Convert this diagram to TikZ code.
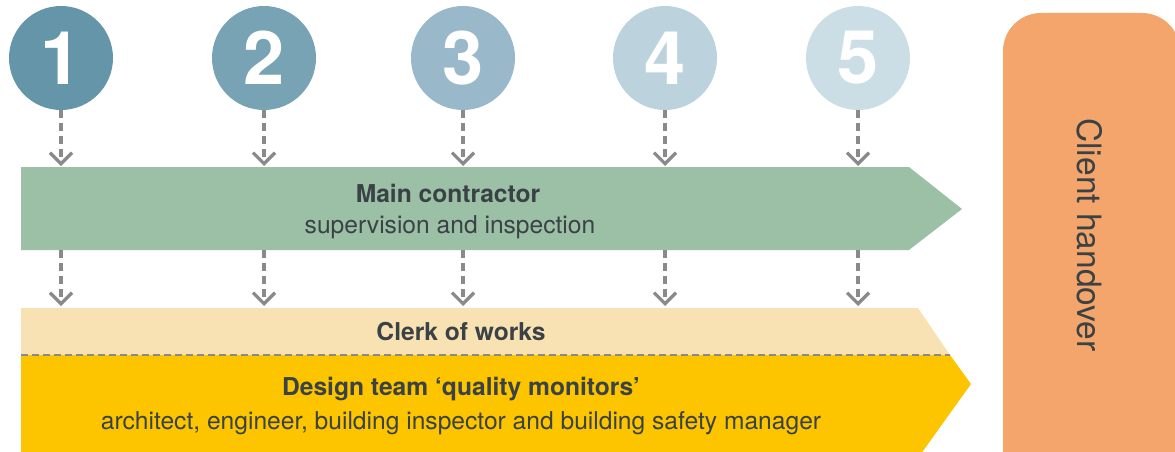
\documentclass[tikz,border=0pt]{standalone}
\usepackage{fontspec}
\setmainfont{TeX Gyre Heros}
\usepackage{xcolor}
\usepackage{tikz}
\usetikzlibrary{arrows.meta, positioning}

\definecolor{stageA}{HTML}{6595A9}
\definecolor{stageB}{HTML}{78A3B5}
\definecolor{stageC}{HTML}{99B9CA}
\definecolor{stageD}{HTML}{BCD2DC}
\definecolor{stageE}{HTML}{CCDEE5}
\definecolor{contractor}{HTML}{9BC0A6}
\definecolor{clerk}{HTML}{F8E2B4}
\definecolor{design}{HTML}{FCC500}
\definecolor{handover}{HTML}{F4A56B}
\definecolor{arrowgray}{HTML}{8A8A8A}
\definecolor{ink}{HTML}{3A4245}

\tikzset{
  stage/.style={circle, minimum size=104pt, inner sep=0pt, text=white,
    font=\fontsize{74}{74}\selectfont\bfseries},
  flow/.style={draw=arrowgray, line width=3.2pt, dash pattern=on 8pt off 5pt,
    -{Straight Barb[length=11pt, width=22pt]}},
  bandtext/.style={text=ink, font=\fontsize{24.6}{28}\selectfont, inner sep=0pt}
}

\begin{document}
\begin{tikzpicture}[x=1pt, y=-1pt]
    \clip (0,0) rectangle (1175,452);
    % Bands
    \fill[contractor] (21,167) -- (909,167) -- (962,209) -- (909,250) -- (21,250) -- cycle;
    \fill[clerk] (21,308) -- (918,308) -- (950,355) -- (21,355) -- cycle;
    \fill[design] (21,355) -- (950,355) -- (971,384) -- (918,458) -- (21,458) -- cycle;
    \draw[arrowgray, line width=2.4pt, dash pattern=on 7pt off 4pt] (21,355) -- (950,355);
    % Handover block
    \fill[handover, rounded corners=38pt] (1003,13) rectangle (1180,500);
    \node[bandtext, rotate=-90, font=\fontsize{33.5}{38}\selectfont] (handover) at (1090,235) {Client handover};
    % Stages
    \node[stage, fill=stageA] (s1) at (61,58) {1};
    \node[stage, fill=stageB] (s2) at (264,58) {2};
    \node[stage, fill=stageC] (s3) at (463,58) {3};
    \node[stage, fill=stageD] (s4) at (665,58) {4};
    \node[stage, fill=stageE] (s5) at (858,58) {5};
    % Band edges
    \coordinate (mainTop) at (0,166);
    \coordinate (mainBot) at (0,250);
    \coordinate (clerkTop) at (0,306);
    % Band labels
    \node[bandtext, font=\fontsize{24.6}{28}\selectfont\bfseries] (main) at (448,193) {Main contractor};
    \node[bandtext] (mainsub) at (450,227) {supervision and inspection};
    \node[bandtext, font=\fontsize{24.6}{28}\selectfont\bfseries] (clerkw) at (461,332) {Clerk of works};
    \node[bandtext, font=\fontsize{24.6}{28}\selectfont\bfseries] (designt) at (461,389) {Design team `quality monitors'};
    \node[bandtext] (designsub) at (461,423) {architect, engineer, building inspector and building safety manager};
    % Arrows into main contractor
    \draw[flow] (s1.south) -- (s1 |- mainTop);
    \draw[flow] (s2.south) -- (s2 |- mainTop);
    \draw[flow] (s3.south) -- (s3 |- mainTop);
    \draw[flow] (s4.south) -- (s4 |- mainTop);
    \draw[flow] (s5.south) -- (s5 |- mainTop);
    % Arrows into clerk of works
    \draw[flow] (s1 |- mainBot) -- (s1 |- clerkTop);
    \draw[flow] (s2 |- mainBot) -- (s2 |- clerkTop);
    \draw[flow] (s3 |- mainBot) -- (s3 |- clerkTop);
    \draw[flow] (s4 |- mainBot) -- (s4 |- clerkTop);
    \draw[flow] (s5 |- mainBot) -- (s5 |- clerkTop);
\end{tikzpicture}
\end{document}
